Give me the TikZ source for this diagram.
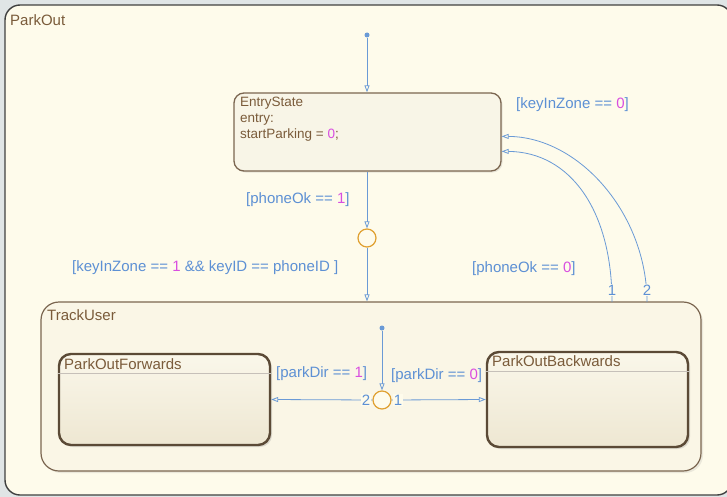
\documentclass[tikz,border=0pt]{standalone}
\usepackage{fontspec}
\setmainfont{Liberation Sans}
\usetikzlibrary{arrows.meta,shadows,calc}

\definecolor{pagebg}{HTML}{E0E5E6}
\definecolor{chartbg}{HTML}{FEFBEB}
\definecolor{entryfill}{HTML}{F8F5E7}
\definecolor{trackfill}{HTML}{FAF6E6}
\definecolor{subtop}{HTML}{FAF7EA}
\definecolor{subbot}{HTML}{EEE7D2}
\definecolor{statetxt}{HTML}{7A5B3A}
\definecolor{stateedge}{HTML}{7B6650}
\definecolor{substateedge}{HTML}{5B4A36}
\definecolor{transc}{HTML}{6A9AD6}
\definecolor{labelc}{HTML}{5D90D4}
\definecolor{digitc}{HTML}{D94EE0}
\definecolor{junctc}{HTML}{E0A030}

\newcommand\dg[1]{\textcolor{digitc}{#1}}

\tikzset{
  every node/.style={font=\fontsize{15}{18}\selectfont},
  statebox/.style={draw=stateedge, line width=1.3pt, rounded corners=10pt,
    fill=entryfill, inner sep=0pt,
    drop shadow={opacity=0.18, shadow xshift=1.5pt, shadow yshift=-1.5pt}},
  subbox/.style={draw=substateedge, line width=2.4pt, rounded corners=12pt,
    top color=subtop, bottom color=subbot, inner sep=0pt,
    drop shadow={opacity=0.25, shadow xshift=2pt, shadow yshift=-2pt}},
  trackbox/.style={draw=stateedge, line width=1.2pt, rounded corners=18pt,
    fill=trackfill, inner sep=0pt,
    drop shadow={opacity=0.15, shadow xshift=2pt, shadow yshift=-2pt}},
  title/.style={text=statetxt, anchor=west, inner sep=0pt},
  trans/.style={draw=transc, line width=0.8pt,
    -{Triangle[open, length=7pt, width=5pt, line width=0.8pt]}},
  guard/.style={text=labelc, anchor=west, inner sep=0pt},
  junction/.style={circle, draw=junctc, line width=1.2pt, fill=chartbg,
    minimum size=18pt, inner sep=0pt},
  defdot/.style={circle, fill=transc, minimum size=5pt, inner sep=0pt},
  order/.style={text=labelc, fill=chartbg, inner sep=0.5pt},
}

\begin{document}
\begin{tikzpicture}[x=1pt, y=-1pt]
  \useasboundingbox (0,0) rectangle (727,497);
  \clip (0,0) rectangle (727,497);
  \fill[pagebg] (0,0) rectangle (727,497);

  % chart ParkOut
  \draw[fill=chartbg, draw=black!75, line width=1.4pt, rounded corners=15pt]
    (5,5) rectangle (732,495);
  \node[title] (parkoutlbl) at (10,20) {ParkOut};

  % EntryState
  \node[statebox, minimum width=267pt, minimum height=78pt] (entry) at (367.5,132) {};
  \node[title, align=left, anchor=north west, font=\fontsize{13.5}{16}\selectfont]
    (entrytxt) at (240,97) {EntryState\\entry:\\startParking = \dg{0};};

  % default transition into EntryState
  \node[defdot] (dot1) at (367,35) {};
  \draw[trans] (dot1) -- (entry.north -| dot1);

  % junction below EntryState
  \node[junction] (j1) at (367,238) {};

  % TrackUser
  \node[trackbox, minimum width=660pt, minimum height=169pt] (track) at (371,386.5) {};
  \node[title] (tracklbl) at (47,315) {TrackUser};

  \draw[trans] (entry.south -| j1) -- (j1.north);
  \draw[trans] (j1.south) -- (track.north -| j1);
  \node[guard] (g1) at (246,200) {[phoneOk == \dg{1}]};
  \node[guard] (g2) at (72,268) {[keyInZone == \dg{1} \&\& keyID == phoneID ]};

  % transitions back to EntryState
  \coordinate (s1) at (612,302);
  \coordinate (s2) at (647,302);
  \coordinate (e1) at ([yshift=-59pt]entry.north east);
  \coordinate (e2) at ([yshift=-44pt]entry.north east);
  \draw[trans] (s1) .. controls (612,210) and (570,152) .. (e1);
  \draw[trans] (s2) .. controls (647,215) and (580,137) .. (e2);
  \node[order] (o1) at (612,290) {1};
  \node[order] (o2) at (647,290) {2};
  \node[guard] (g3) at (516,105) {[keyInZone == \dg{0}]};
  \node[guard] (g4) at (472,269) {[phoneOk == \dg{0}]};

  % substates
  \node[subbox, minimum width=211pt, minimum height=91pt] (fwd) at (164.5,399.5) {};
  \draw[substateedge!35, line width=0.6pt] ([yshift=-20pt]fwd.north west) -- ([yshift=-20pt]fwd.north east);
  \node[title] (fwdlbl) at (64,364) {ParkOutForwards};

  \node[subbox, minimum width=201pt, minimum height=95pt] (bwd) at (587.5,399.5) {};
  \draw[substateedge!35, line width=0.6pt] ([yshift=-20pt]bwd.north west) -- ([yshift=-20pt]bwd.north east);
  \node[title] (bwdlbl) at (492,361) {ParkOutBackwards};

  % inner default transition and junction
  \node[defdot] (dot2) at (382,328) {};
  \node[junction] (j2) at (382,400) {};
  \draw[trans] (dot2) -- (j2.north);
  \draw[trans] (j2.west) -- (fwd.east);
  \draw[trans] (j2.east) -- (bwd.west);
  \node[order] (o3) at (366,400) {2};
  \node[order] (o4) at (398,400) {1};
  \node[guard] (g5) at (276,374) {[parkDir == \dg{1}]};
  \node[guard] (g6) at (391,376) {[parkDir == \dg{0}]};
\end{tikzpicture}
\end{document}
